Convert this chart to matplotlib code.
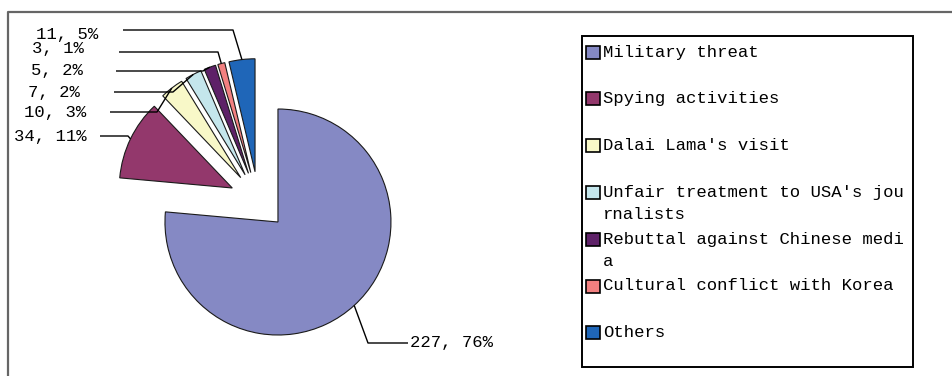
import matplotlib
matplotlib.use("Agg")
import matplotlib.pyplot as plt
from matplotlib.patches import Rectangle
import numpy as np

W, H = 952, 376

# 数据
categories = ["Military threat", "Spying activities", "Dalai Lama's visit",
              "Unfair treatment to USA's journalists",
              "Rebuttal against Chinese media",
              "Cultural conflict with Korea", "Others"]
counts = [227, 34, 10, 7, 5, 3, 11]
percents = ["76%", "11%", "3%", "2%", "2%", "1%", "5%"]
colors = ["#8589c4", "#93386c", "#f8f8c8", "#c4e6ec", "#5e2168", "#f28080", "#1f66b8"]

# 图例文字 (按原图换行)
legend_text = ["Military threat", "Spying activities", "Dalai Lama's visit",
               "Unfair treatment to USA's jou\nrnalists",
               "Rebuttal against Chinese medi\na",
               "Cultural conflict with Korea", "Others"]

# 标签位置 (像素, 自上而下): 文字右端/左端x, 文字y, 引线起点x, 折点x
label_x = [410, 87, 86, 80, 83, 84, 98]
label_y = [343, 136, 112, 92, 71, 49, 34]
line_x = [408, 100, 110, 114, 116, 119, 123]
elbow_x = [368, 128, 157, 173, 203, 218, 233]
elbow_y = [343, 136, 112, 92, 71, 52, 30]

font = dict(family="Liberation Mono", fontsize=12.4, color="black")

fig = plt.figure(figsize=(W / 100, H / 100), dpi=100)
ax = fig.add_axes([0, 0, 1, 1])

# explode 在 pie 中是数据单位 (这里是像素)
wedges, _ = ax.pie(counts, colors=colors, startangle=90, counterclock=False,
                   radius=113, center=(258.4, H - 200.6),
                   explode=[29] * len(counts),
                   wedgeprops=dict(edgecolor="#1a1a1a", linewidth=0.8))

ax.set_xlim(0, W)
ax.set_ylim(0, H)
ax.set_aspect("equal")
ax.axis("off")

# 数据标签与引线
for i, w in enumerate(wedges):
    mid = np.deg2rad((w.theta1 + w.theta2) / 2)
    ax_, ay_ = w.center[0] + w.r * np.cos(mid), w.center[1] + w.r * np.sin(mid)
    ax.plot([ax_, elbow_x[i], line_x[i]], [ay_, H - elbow_y[i], H - elbow_y[i]],
            color="black", lw=1.0, solid_capstyle="butt")
    ha = "left" if i == 0 else "right"
    ax.text(label_x[i], H - label_y[i], f"{counts[i]}, {percents[i]}",
            ha=ha, va="center", **font)

# 图例
ax.add_patch(Rectangle((581.5, H - 367), 331, 331.5, fill=False,
                       edgecolor="black", lw=1.4))
for i, (txt, c) in enumerate(zip(legend_text, colors)):
    y = 52 + i * 46.8
    ax.add_patch(Rectangle((586, H - y - 6.5), 14, 13, facecolor=c,
                           edgecolor="black", lw=1.2))
    for j, line in enumerate(txt.split("\n")):
        ax.text(603, H - y - j * 22.5, line, ha="left", va="center", **font)

# 外框 (只显示上边和左边)
ax.plot([8, 8, W], [0, H - 11.5, H - 11.5], color="#666666", lw=1.6)

fig.savefig("out.png", dpi=100)
